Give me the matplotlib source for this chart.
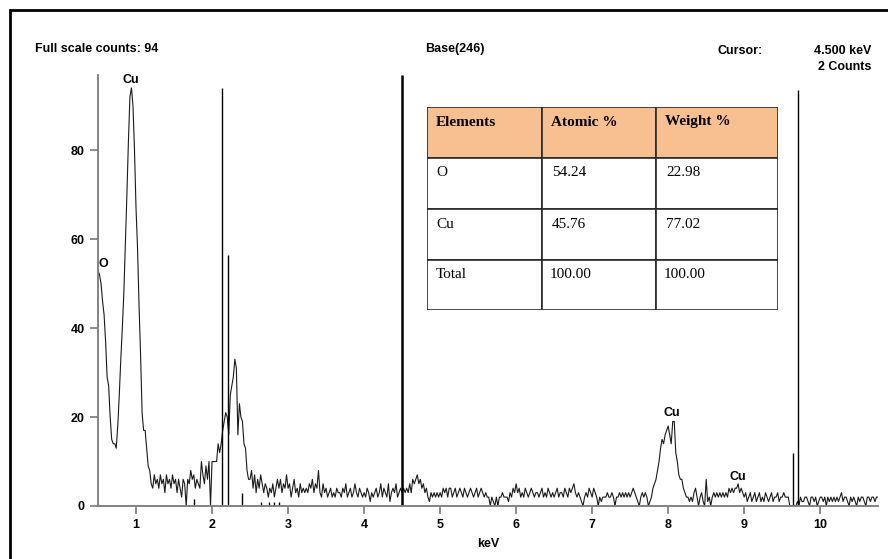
import numpy as np
import matplotlib.pyplot as plt
from matplotlib.patches import Rectangle

plt.rcParams['font.family'] = ['Liberation Sans', 'DejaVu Sans']

# spectrum counts, channel width 0.02 keV, each segment with its start energy
step = 0.02
seg_a_start = 0.50
seg_a = [53, 52, 50, 46, 43, 37, 29, 27, 20, 15, 14, 14, 13, 18, 25, 33, 40, 48, 59, 70,
         82, 92, 94, 90, 80, 67, 58, 45, 34, 21, 17, 17, 13, 9, 8, 5, 4, 7, 5, 6]
seg_b_start = 1.30
seg_b = [4, 7, 5, 6, 3, 7, 5, 6, 4, 7, 5, 6, 3, 6, 4, 2, 6, 5, 0, 6,
         5, 8, 6, 7, 4, 6, 5, 4, 10, 7, 5, 9, 6, 10, 0, 10, 10, 10, 10, 14,
         12, 14, 17, 19, 21, 20, 16, 25, 27, 29, 33, 31, 16, 23, 20, 19, 14, 13, 8, 6,
         6, 8, 4, 7, 3]
seg_c_start = 2.60
seg_c = [6, 4, 7, 5, 3, 5, 4, 2, 4, 3, 5, 2, 4, 6, 4, 6, 3, 5, 4, 7,
         4, 5, 2, 4, 6, 3, 4, 2, 5, 3, 4, 3, 4, 3, 5, 4, 6, 3, 5, 4,
         8, 3, 2, 5, 3, 4, 2, 3, 4, 2, 3, 2, 4, 3, 3, 2, 4, 3, 5, 2,
         3, 4, 2, 3, 5, 3, 2, 4, 3, 2, 3, 2, 4, 3, 1, 3, 2, 3, 4, 2,
         3, 5, 2, 4, 3, 2, 5, 1, 3, 4, 3, 5, 2, 3, 4, 3]
seg_d_start = 4.52
seg_d = [4, 3, 4, 3, 5, 3, 6, 5, 6, 7, 5, 6, 4, 5, 3, 4, 2, 1, 3, 2,
         3, 2, 3, 2, 3, 2, 4, 3, 4, 2, 4, 4, 2, 3, 4, 2, 3, 4, 3, 2,
         4, 3, 2, 3, 4, 3, 2, 3, 4, 2, 3, 4, 3, 2, 3, 2, 2, 0, 2, 1,
         0, 2, 0, 2, 2, 3, 2, 2, 2, 1, 3, 2, 4, 3, 5, 3, 4, 2, 3, 2,
         4, 3, 2, 3, 4, 3, 2, 3, 3, 2, 3, 4, 2, 3, 2, 4, 3, 2, 3, 2,
         3, 4, 2, 3, 3, 2, 4, 3, 2, 4, 3, 4, 5, 3, 2, 3, 2, 1, 0, 2,
         3, 2, 4, 3, 2, 4, 3, 2, 0, 2, 1, 2, 2, 2, 3, 2, 2, 3, 2, 0,
         2, 2, 3, 2, 3, 2, 3, 2, 3, 2, 3, 4, 3, 2, 1, 0, 2, 3, 2, 3,
         2]
seg_e_start = 7.74
seg_e = [0, 1, 2, 4, 5, 6, 8, 10, 13, 15, 14, 16, 17, 18, 16, 14, 19, 19, 12, 10,
         7, 6, 6, 4, 3, 2, 2, 1, 2, 1, 3, 4, 2, 0]
seg_f_start = 8.42
seg_f = [2, 3, 1, 0, 6, 1, 2, 0, 2, 3, 2, 3, 2, 3, 2, 3, 2, 3, 2, 4,
         3, 4, 3, 4, 4, 5, 3, 4, 3, 2, 3, 1, 2, 3, 1, 2, 3, 1, 2, 3,
         1, 2, 1, 3, 2, 1, 2, 3, 1, 2, 2, 3, 1, 2, 2, 3, 2, 2, 2, 0,
         0, 0, 0, 0, 1, 0, 2, 1, 1, 2, 2, 1, 0, 2, 2, 1, 2, 0, 1, 2,
         2, 1, 2, 0, 2, 1, 2, 1, 2, 1, 2, 1, 2, 3, 1, 2, 2, 1, 0, 2,
         1, 2, 1, 0, 2, 1, 2, 2, 1, 0, 2, 2, 1, 2, 2, 1, 2, 2]

segments = [(seg_a_start, seg_a), (seg_b_start, seg_b), (seg_c_start, seg_c),
            (seg_d_start, seg_d), (seg_e_start, seg_e), (seg_f_start, seg_f)]

# marker lines (energy, height)
marker_e = [2.128, 2.206, 9.64, 9.71, 1.76, 2.40, 2.64, 2.75, 2.81, 2.88]
marker_h = [94, 56.5, 12, 93.5, 1.5, 3, 1, 1, 1, 1]
cursor_e = 4.5

peak_names = ['O', 'Cu', 'Cu', 'Cu']
peak_x = [0.566, 0.934, 8.05, 8.91]
peak_y = [54.4, 95.7, 20.9, 6.5]

table_cols = ['Elements', 'Atomic %', 'Weight %']
table_rows = [['O', '54.24', '22.98'],
              ['Cu', '45.76', '77.02'],
              ['Total', '100.00', '100.00']]

energy = np.concatenate([start + step * np.arange(len(c)) for start, c in segments])
counts = np.concatenate([np.array(c, dtype=float) for _, c in segments])
order = np.argsort(energy)
energy, counts = energy[order], counts[order]

W, H = 888, 559
fig = plt.figure(figsize=(W / 100, H / 100), dpi=100)
ax = fig.add_axes([98 / W, 1 - 506 / H, 780 / W, 431 / H])

ax.plot(energy, counts, color='#1a1a1a', lw=0.8)
ax.vlines(marker_e, 0, marker_h, color='black', lw=1.0)
ax.vlines([cursor_e], 0, 97, color='black', lw=1.8)

for name, x, y in zip(peak_names, peak_x, peak_y):
    ax.text(x, y, name, ha='center', va='center', fontsize=9, fontweight='bold')

ax.set_xlim(0.5, 10.76)
ax.set_ylim(0, 96.9)
ax.set_xticks(range(1, 11))
ax.set_yticks([0, 20, 40, 60, 80])
for s in ['top', 'right']:
    ax.spines[s].set_visible(False)
for s in ['left', 'bottom']:
    ax.spines[s].set_color('#7a7a7a')
    ax.spines[s].set_linewidth(1.3)
ax.tick_params(colors='#7a7a7a', labelcolor='black', length=6, width=1.2,
               labelsize=9)
for lab in ax.get_xticklabels() + ax.get_yticklabels():
    lab.set_fontweight('bold')
ax.set_xlabel('keV', fontsize=9, fontweight='bold', labelpad=5)

# header texts
hdr = dict(fontsize=9, fontweight='bold', va='center')
fig.text(35 / W, 1 - 49 / H, 'Full scale counts: 94', ha='left', **hdr)
fig.text(425 / W, 1 - 49 / H, 'Base(246)', ha='left', **hdr)
fig.text(718 / W, 1 - 51 / H, 'Cursor:', ha='left', **hdr)
fig.text(871 / W, 1 - 51 / H, '4.500 keV', ha='right', **hdr)
fig.text(871 / W, 1 - 67 / H, '2 Counts', ha='right', **hdr)

# outer frame
fig.patches.append(Rectangle((10 / W, -0.2), 1.2, 1.2 - 10 / H, transform=fig.transFigure,
                             fill=False, edgecolor='black', lw=2, clip_on=False))

# composition table drawn in pixel space
tx0, tx1, ty0, ty1 = 427, 778, 107, 310
tab = fig.add_axes([tx0 / W, 1 - ty1 / H, (tx1 - tx0) / W, (ty1 - ty0) / H])
tab.set_xlim(0, tx1 - tx0)
tab.set_ylim(ty1 - ty0, 0)
tab.axis('off')
col_edges = [0, 115, 229, 351]
row_edges = [0, 51, 102, 153, 203]
all_rows = [table_cols] + table_rows
for r, row in enumerate(all_rows):
    for c, val in enumerate(row):
        x0, x1 = col_edges[c], col_edges[c + 1]
        y0, y1 = row_edges[r], row_edges[r + 1]
        tab.add_patch(Rectangle((x0, y0), x1 - x0, y1 - y0,
                                facecolor='#f8bf90' if r == 0 else 'white',
                                edgecolor='#2a2a2a', lw=1.2))
        pad = 9 if (r == 0 or c == 0) else 10
        if r > 0 and c > 0 and val.startswith('100'):
            pad = 8
        tab.text(x0 + pad, y0 + 15, val, family=['Liberation Serif', 'DejaVu Serif'],
                 fontsize=11, fontweight='bold' if r == 0 else 'normal',
                 va='center', ha='left')

fig.savefig('out.png', dpi=100)
